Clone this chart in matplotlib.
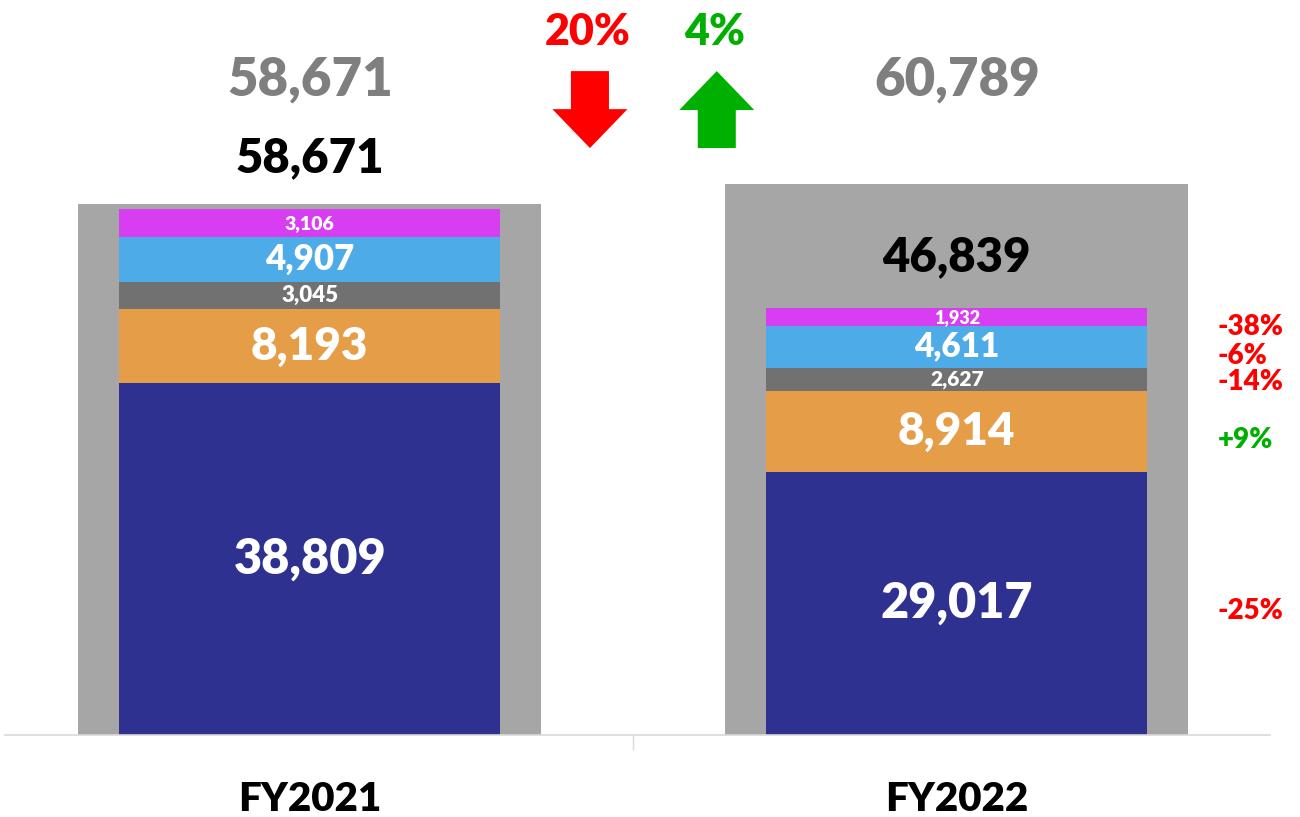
import numpy as np
import matplotlib
matplotlib.use("Agg")
import matplotlib.pyplot as plt
from matplotlib.patches import Polygon

plt.rcParams['font.family'] = ['Lato', 'DejaVu Sans']
plt.rcParams['font.weight'] = 'heavy'

years = ["FY2021", "FY2022"]
segment_names = ["Core", "Services", "Licensing", "Cloud", "Other"]
segment_colors = ["#2E3190", "#E59D48", "#717171", "#4DACE8", "#D83EF1"]
segments = {
    "Core":      [38809, 29017],
    "Services":  [8193, 8914],
    "Licensing": [3045, 2627],
    "Cloud":     [4907, 4611],
    "Other":     [3106, 1932],
}
# label font sizes per segment, per year (small slices get small text)
label_sizes = {
    "Core":      [35, 35],
    "Services":  [33, 33],
    "Licensing": [16, 15],
    "Cloud":     [25, 24],
    "Other":     [14, 13],
}
backlog_totals = [58671, 60789]   # grey background bars
booked_totals = [58671, 46839]    # stated totals of the stacks

bg_color = "#A6A6A6"
red = "#FF0000"
green = "#00B000"

fig = plt.figure(figsize=(13, 8.17), dpi=100)
ax = fig.add_axes([5 / 1300, 82 / 817, 1265 / 1300, 735 / 817])
x = np.arange(len(years))

ax.bar(x, backlog_totals, width=0.716, color=bg_color, zorder=1)

bottom = np.zeros(len(years))
for name, color in zip(segment_names, segment_colors):
    vals = np.array(segments[name])
    ax.bar(x, vals, width=0.589, bottom=bottom, color=color, zorder=2)
    for i, v in enumerate(vals):
        ax.text(x[i], bottom[i] + v / 2, f"{v:,}", ha="center", va="center",
                color="white", fontsize=label_sizes[name][i], zorder=3)
    bottom += vals
stack_tops = bottom

# grey totals across the top, black totals above each stack
for i in range(len(years)):
    ax.text(x[i], 72300, f"{backlog_totals[i]:,}", ha="center", va="center",
            color="#7F7F7F", fontsize=38)
    ax.annotate(f"{booked_totals[i]:,}", (x[i], stack_tops[i]),
                xytext=(0, 37), textcoords="offset points",
                ha="center", va="center", color="black", fontsize=34)

# year-over-year change per segment, right of FY2022
nudges = [-5, -6, -2, -7, -7]
for name, dy in zip(segment_names, nudges):
    a, b = segments[name]
    pct = (b - a) / a * 100
    lo = sum(segments[n][1] for n in segment_names[:segment_names.index(name)])
    ax.annotate(f"{pct:+.0f}%", (1.403, lo + b / 2), xytext=(0, dy),
                textcoords="offset points", ha="left", va="center",
                color=green if pct > 0 else red, fontsize=20)


def block_arrow(cx, y_tail, y_tip, color, shaft=0.0294, head=0.058, head_len=4300):
    sgn = 1 if y_tip > y_tail else -1
    y_base = y_tip - sgn * head_len
    pts = [(cx - shaft, y_tail), (cx + shaft, y_tail), (cx + shaft, y_base),
           (cx + head, y_base), (cx, y_tip), (cx - head, y_base),
           (cx - shaft, y_base)]
    ax.add_patch(Polygon(pts, closed=True, color=color, lw=0, clip_on=False))


booked_chg = (booked_totals[1] - booked_totals[0]) / booked_totals[0] * 100
backlog_chg = (backlog_totals[1] - backlog_totals[0]) / backlog_totals[0] * 100
ax.text(0.430, 77600, f"{abs(booked_chg):.0f}%", ha="center", va="center",
        color=red, fontsize=31)
ax.text(0.626, 77600, f"{abs(backlog_chg):.0f}%", ha="center", va="center",
        color=green, fontsize=31)
block_arrow(0.433, 73300, 64800, red)
block_arrow(0.629, 64800, 73300, green)

ax.set_xlim(-0.471, 1.484)
ax.set_ylim(0, 81150)
ax.set_yticks([])
for s in ["top", "right", "left"]:
    ax.spines[s].set_visible(False)
ax.spines["bottom"].set_color("#D9D9D9")
ax.spines["bottom"].set_linewidth(1.2)
ax.set_xticks([0.5])
ax.set_xticklabels([""])
ax.tick_params(axis="x", which="major", length=11, color="#D9D9D9", width=1)
ax.set_xticks(x, minor=True)
ax.set_xticklabels(years, minor=True, fontsize=29)
ax.tick_params(axis="x", which="minor", length=0, pad=33)

fig.savefig("out.png", dpi=100, facecolor="white")
